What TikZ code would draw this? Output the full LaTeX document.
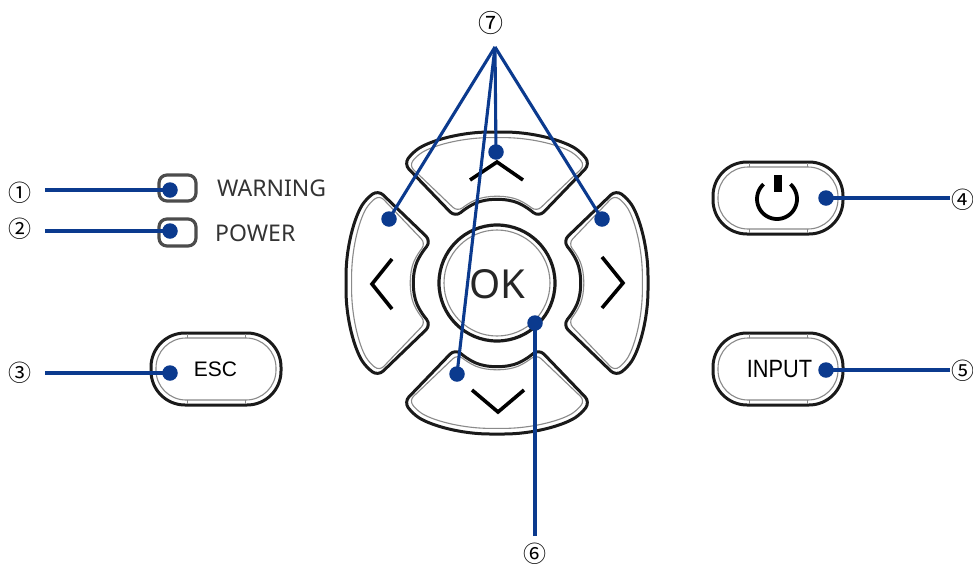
\documentclass[tikz,border=0pt]{standalone}
\usepackage{fontspec}
\setmainfont{Liberation Sans}
\newfontfamily\notofont{Noto Sans}
\newfontfamily\markfont{Noto Sans CJK SC}
\definecolor{leader}{HTML}{0B3A8E}
\definecolor{edge}{HTML}{1A1A1A}
\definecolor{innerline}{HTML}{8A8A8A}
\tikzset{
  x=1pt,y=-1pt,
  dotnode/.style={circle,fill=leader,inner sep=0pt,minimum size=15.5pt},
  leaderline/.style={draw=leader,line width=3.1pt},
  marknode/.style={inner sep=0pt,font=\fontsize{23}{23}\selectfont\markfont,text=black},
  captionnode/.style={inner sep=0pt,anchor=west,text=black!80,font=\fontsize{23}{23}\selectfont\notofont},
  keyouter/.style={draw=edge,fill=white,line width=3pt,rounded corners=7pt,line join=round},
  keyinner/.style={draw=innerline,line width=1.1pt,rounded corners=6pt,line join=round},
  chevron/.style={draw=black,line width=3.6pt,line join=miter},
}
\newcommand{\keyshape}{(-28,-77) .. controls (-10,-85) and (10,-85) .. (28,-77) -- (42,-66) -- (93,-119) -- (84,-131) .. controls (65,-143) and (35,-151) .. (0,-151) .. controls (-35,-151) and (-65,-143) .. (-84,-131) -- (-93,-119) -- (-42,-66) -- cycle}
\newcommand{\padkey}[1]{%
  \begin{scope}[shift={(497,283)},rotate=#1]
    \path[keyouter] \keyshape;
    \begin{scope}[shift={(0,-108)},xscale=.945,yscale=.87,shift={(0,108)}]
      \path[keyinner] \keyshape;
    \end{scope}
  \end{scope}}
\newcommand{\pill}[2]{%
  \draw[draw=edge,fill=white,line width=3pt,rounded corners=34pt] (#1-65,#2-36) rectangle (#1+65,#2+36);
  \draw[keyinner,rounded corners=30pt] (#1-60,#2-31) rectangle (#1+60,#2+31);
  \draw[innerline,line width=.8pt] (#1-29,#2-35) -- (#1-29,#2-31) (#1+29,#2-35) -- (#1+29,#2-31) (#1-29,#2+35) -- (#1-29,#2+31) (#1+29,#2+35) -- (#1+29,#2+31);}
\begin{document}
\begin{tikzpicture}
\useasboundingbox (0,0) rectangle (973,568);
% direction pad
\padkey{0}\padkey{90}\padkey{180}\padkey{270}
\draw[draw=edge,fill=white,line width=3.2pt] (497,283) circle[radius=58];
\draw[innerline,line width=1.1pt] (497,283) circle[radius=53];
\node[inner sep=0pt,font=\fontsize{40}{40}\selectfont\notofont,text=black!85] (oktext) at (497,284) {OK};
\draw[chevron] (470,180) -- (497,162) -- (523,180);
\draw[chevron] (472,390) -- (498,412) -- (524,390);
\draw[chevron] (392,259) -- (372,284) -- (392,309);
\draw[chevron] (602,257) -- (623,283) -- (602,308);
% pills
\pill{216}{369}
\pill{778}{198}
\pill{778}{369}
\node[inner sep=0pt,font=\fontsize{21}{21}\selectfont,text=black] (esctext) at (215.5,369.5) {ESC};
\node[inner sep=0pt,font=\fontsize{25}{25}\selectfont,text=black] (inputtext) at (779.5,369) {\scalebox{.87}[1]{INPUT}};
\draw[black,line width=3.8pt] plot[domain=42:318,samples=50,smooth] ({777+20*sin(\x)},{199-20*cos(\x)});
\fill[black] (774,175) rectangle (782,192);
% LEDs
\draw[draw=black!70,fill=white,line width=3.2pt,rounded corners=8pt] (159,175) rectangle (196,201);
\draw[draw=black!70,fill=white,line width=3.2pt,rounded corners=8pt] (159,219) rectangle (196,246);
\node[captionnode] (warntext) at (217,188.5) {WARNING};
\node[captionnode] (powertext) at (215,233.5) {POWER};
% marks
\node[marknode] (m1) at (20,193) {①};
\node[marknode] (m2) at (20,229) {②};
\node[marknode] (m3) at (20,373) {③};
\node[marknode] (m4) at (963,200) {④};
\node[marknode] (m5) at (963,371) {⑤};
\node[marknode] (m6) at (535,554) {⑥};
\node[marknode,font=\fontsize{25}{25}\selectfont\markfont] (m7) at (491,23) {⑦};
% anchors
\coordinate (s1) at (45,190);
\coordinate (s2) at (45,231);
\coordinate (s3) at (45,373);
\coordinate (s4) at (950,198);
\coordinate (s5) at (950,370);
\coordinate (s6) at (535,536);
\coordinate (s7) at (495,47);
% dots
\node[dotnode] (d1) at (170,190) {};
\node[dotnode] (d2) at (170,231) {};
\node[dotnode] (d3) at (170,373) {};
\node[dotnode] (d4) at (826,198) {};
\node[dotnode] (d5) at (826,370) {};
\node[dotnode] (d6) at (535,323) {};
\node[dotnode] (d7a) at (389,219) {};
\node[dotnode] (d7b) at (496,152) {};
\node[dotnode] (d7c) at (602,219) {};
\node[dotnode] (d7d) at (457,374) {};
% leaders
\draw[leaderline] (s1) -- (d1.center);
\draw[leaderline] (s2) -- (d2.center);
\draw[leaderline] (s3) -- (d3.center);
\draw[leaderline] (s4) -- (d4.center);
\draw[leaderline] (s5) -- (d5.center);
\draw[leaderline] (s6) -- (d6.center);
\draw[leaderline] (s7) -- (d7a.center);
\draw[leaderline] (s7) -- (d7b.center);
\draw[leaderline] (s7) -- (d7c.center);
\draw[leaderline] (s7) -- (d7d.center);
\end{tikzpicture}
\end{document}
